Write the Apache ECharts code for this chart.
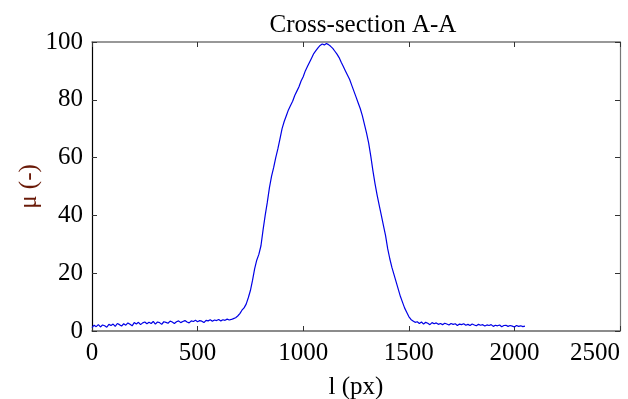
<!DOCTYPE html>
<html>
<head>
<meta charset="utf-8">
<script src="https://cdn.jsdelivr.net/npm/echarts@6/dist/echarts.min.js"></script>
<style>html,body{margin:0;padding:0;background:#fff;}#c{width:628px;height:399px;}</style>
</head>
<body>
<div id="c"></div>
<script>
const titleText = 'Cross-section A-A';
const xName = 'l (px)';
const yName = 'μ (-)';
const xTicks = [0, 500, 1000, 1500, 2000, 2500];
const yTicks = [0, 20, 40, 60, 80, 100];
const sampleStep = 10; // l (px) spacing between readings, starting at 0
const muValues = [
 1.2,2.0,1.5,2.2,1.4,2.1,1.8,1.3,2.3,1.9,
 2.4,1.6,2.6,2.2,1.7,2.5,2.0,2.8,2.3,1.8,
 2.9,2.4,3.0,2.2,2.8,3.1,2.5,3.0,2.6,3.3,
 2.4,3.1,2.9,2.3,3.2,3.0,2.7,3.4,3.1,2.6,
 3.2,3.5,2.9,3.3,3.6,3.1,2.8,3.5,3.3,3.7,
 3.2,3.6,3.4,2.9,3.7,3.5,3.9,3.4,3.8,3.6,
 4.0,3.5,3.9,3.7,4.1,3.8,4.0,4.3,4.6,5.2,
 6.0,7.2,8.0,9.3,11.5,14.0,17.5,21.5,24.5,26.5,
 29.5,35.0,40.0,44.5,49.5,53.5,56.5,60.0,63.0,66.5,
 70.0,72.5,74.5,76.5,78.0,79.5,81.5,83.0,84.5,86.5,
 88.0,90.0,91.5,93.0,94.5,96.0,97.0,98.0,98.8,99.3,
 99.0,99.5,99.1,98.5,97.8,96.8,95.8,94.6,93.0,91.5,
 90.0,88.5,87.0,85.0,83.0,81.0,79.0,77.0,74.5,71.5,
 68.5,65.0,60.5,55.5,51.0,47.0,43.5,40.0,36.5,33.0,
 28.5,25.0,22.0,19.5,17.0,14.5,12.0,10.0,8.0,6.5,
 5.0,4.0,3.5,3.0,3.2,2.6,3.1,2.4,3.0,2.7,
 2.2,2.9,2.5,2.8,2.3,2.6,2.2,2.7,2.4,2.1,
 2.6,2.3,2.5,1.9,2.4,2.2,2.5,2.0,2.3,1.9,
 2.4,2.1,1.8,2.3,2.0,2.2,1.7,2.1,1.9,2.2,
 1.6,2.0,1.8,2.1,1.5,1.9,2.0,1.6,1.9,1.7,
 1.4,1.9,1.6,1.8,1.5,1.7
];

const font = '"Liberation Serif","DejaVu Serif",serif';
const seriesData = muValues.map((v, i) => [i * sampleStep, v]);
const plain = v => String(v);

const chart = echarts.init(document.getElementById('c'), null, {renderer: 'canvas'});
chart.setOption({
  animation: false,
  backgroundColor: '#fff',
  title: {
    text: titleText, left: 358, textAlign: 'center', top: 8,
    textStyle: {fontFamily: font, fontSize: 25, fontWeight: 'normal', color: '#000'}
  },
  grid: {left: 92, right: 8, top: 42, bottom: 68, containLabel: false, outerBoundsMode: 'none'},
  xAxis: [{
    type: 'value', min: xTicks[0], max: xTicks[xTicks.length - 1], interval: xTicks[1] - xTicks[0],
    name: xName, nameLocation: 'middle', nameGap: 44,
    nameTextStyle: {fontFamily: font, fontSize: 25, color: '#000'},
    axisLine: {lineStyle: {color: '#666', width: 1.5}},
    axisTick: {inside: true, length: 5, lineStyle: {color: '#333'}},
    axisLabel: {fontFamily: font, fontSize: 25, color: '#000', margin: 10, alignMaxLabel: 'right', formatter: plain},
    splitLine: {show: false}
  }, {
    type: 'value', position: 'top', min: xTicks[0], max: xTicks[xTicks.length - 1], interval: xTicks[1] - xTicks[0],
    axisLine: {show: true, onZero: false, lineStyle: {color: '#777', width: 1.5}},
    axisTick: {inside: true, length: 5, lineStyle: {color: '#333'}},
    axisLabel: {show: false}, splitLine: {show: false}
  }],
  yAxis: [{
    type: 'value', min: yTicks[0], max: yTicks[yTicks.length - 1], interval: yTicks[1] - yTicks[0],
    name: yName, nameLocation: 'middle', nameGap: 50, nameRotate: 90, nameMoveOverlap: false,
    nameTextStyle: {fontFamily: font, fontSize: 25, color: '#6a1a08'},
    axisLine: {show: true, lineStyle: {color: '#000', width: 1.2}},
    axisTick: {show: true, inside: true, length: 5, lineStyle: {color: '#333'}},
    axisLabel: {fontFamily: font, fontSize: 25, color: '#000', margin: 9, formatter: plain},
    splitLine: {show: false}
  }, {
    type: 'value', position: 'right', min: yTicks[0], max: yTicks[yTicks.length - 1], interval: yTicks[1] - yTicks[0],
    axisLine: {show: true, onZero: false, lineStyle: {color: '#777', width: 1.2}},
    axisTick: {show: true, inside: true, length: 5, lineStyle: {color: '#333'}},
    axisLabel: {show: false}, splitLine: {show: false}
  }],
  series: [{
    type: 'line', xAxisIndex: 0, yAxisIndex: 0, data: seriesData,
    showSymbol: false, symbol: 'none',
    lineStyle: {color: '#0000e6', width: 1.2}
  }]
});
</script>
</body>
</html>
